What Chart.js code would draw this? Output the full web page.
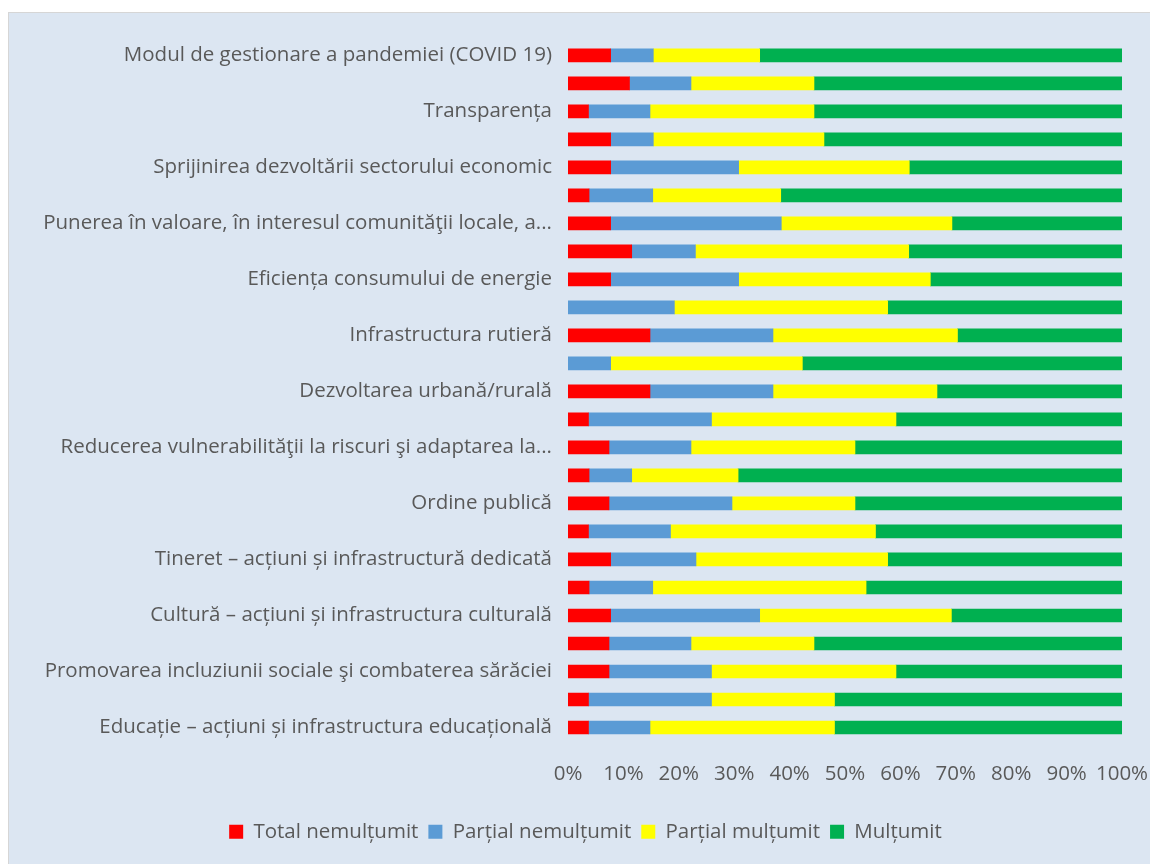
<!DOCTYPE html>
<html>
<head>
<meta charset="utf-8">
<script src="https://cdn.jsdelivr.net/npm/chart.js@4"></script>
<style>
  body { margin: 0; background: #ffffff; }
  #box {
    position: absolute; left: 8px; top: 12px;
    width: 1150px; height: 860px;
    background: #dce6f2; border: 1px solid #d6d6d6;
  }
  #chart { display: block; }
</style>
</head>
<body>
<div id="box"><canvas id="chart" width="1141" height="851"></canvas></div>
<script>
// categories top to bottom (the unlabeled rows carry no visible name in the picture)
const categories = [
  'Modul de gestionare a pandemiei (COVID 19)', '',
  'Transparența', '',
  'Sprijinirea dezvoltării sectorului economic', '',
  'Punerea în valoare, în interesul comunităţii locale, a...', '',
  'Eficiența consumului de energie', '',
  'Infrastructura rutieră', '',
  'Dezvoltarea urbană/rurală', '',
  'Reducerea vulnerabilităţii la riscuri şi adaptarea la...', '',
  'Ordine publică', '',
  'Tineret – acțiuni și infrastructură dedicată', '',
  'Cultură – acțiuni și infrastructura culturală', '',
  'Promovarea incluziunii sociale şi combaterea sărăciei', '',
  'Educație – acțiuni și infrastructura educațională'
];

// shares in %, same order as categories
const totalNemultumit = [7.7, 11.1, 3.7, 7.7, 7.7, 3.8, 7.7, 11.5, 7.7, 0, 14.8, 0, 14.8,
  3.7, 7.4, 3.8, 7.4, 3.7, 7.7, 3.8, 7.7, 7.4, 7.4, 3.7, 3.7];
const partialNemultumit = [7.7, 11.1, 11.1, 7.7, 23.1, 11.5, 30.8, 11.5, 23.1, 19.2, 22.2, 7.7, 22.2,
  22.2, 14.8, 7.7, 22.2, 14.8, 15.4, 11.5, 26.9, 14.8, 18.5, 22.2, 11.1];
const partialMultumit = [19.2, 22.2, 29.6, 30.8, 30.8, 23.1, 30.8, 38.5, 34.6, 38.5, 33.3, 34.6, 29.6,
  33.3, 29.6, 19.2, 22.2, 37.0, 34.6, 38.5, 34.6, 22.2, 33.3, 22.2, 33.3];
const multumit = [65.4, 55.6, 55.6, 53.8, 38.4, 61.6, 30.7, 38.5, 34.6, 42.3, 29.7, 57.7, 33.4,
  40.8, 48.2, 69.3, 48.2, 44.5, 42.3, 46.2, 30.8, 55.6, 40.8, 51.9, 51.9];

const xTicks = [0, 10, 20, 30, 40, 50, 60, 70, 80, 90, 100];

const textColor = '#595959';
const fontFamily = '"Open Sans", "Noto Sans", sans-serif';
const fontSize = 20.5;

// zero shares draw nothing
const noZero = (arr) => arr.map(v => (v === 0 ? null : v));

new Chart(document.getElementById('chart'), {
  type: 'bar',
  data: {
    labels: categories,
    datasets: [
      { label: 'Total nemulțumit', data: noZero(totalNemultumit), backgroundColor: '#ff0000' },
      { label: 'Parțial nemulțumit', data: noZero(partialNemultumit), backgroundColor: '#5b9bd5' },
      { label: 'Parțial mulțumit', data: noZero(partialMultumit), backgroundColor: '#ffff00' },
      { label: 'Mulțumit', data: noZero(multumit), backgroundColor: '#00b050' }
    ]
  },
  options: {
    indexAxis: 'y',
    responsive: false,
    animation: false,
    barThickness: 13,
    layout: { padding: { top: 28, right: 0, bottom: 12, left: 12 } },
    scales: {
      x: {
        stacked: true,
        min: 0, max: 100,
        afterBuildTicks: (scale) => { scale.ticks = xTicks.map(v => ({ value: v })); },
        afterFit: (scale) => {
          scale.height = 70;
          scale.paddingLeft = 0;
          scale.paddingRight = 28;
        },
        grid: { display: false, drawTicks: false },
        border: { display: false },
        ticks: {
          color: textColor, padding: 20, maxRotation: 0, minRotation: 0, autoSkip: false,
          font: { family: fontFamily, size: fontSize },
          callback: (v) => v + '%'
        }
      },
      y: {
        stacked: true,
        afterFit: (scale) => { scale.width = 547; },
        grid: { display: false, drawTicks: false },
        border: { display: false },
        ticks: {
          color: textColor, padding: 16, autoSkip: false,
          font: { family: fontFamily, size: fontSize }
        }
      }
    },
    plugins: {
      tooltip: { enabled: false },
      legend: {
        position: 'bottom',
        labels: {
          color: textColor, boxWidth: 14, boxHeight: 14, padding: 10,
          font: { family: fontFamily, size: fontSize }
        }
      }
    }
  }
});
</script>
</body>
</html>
